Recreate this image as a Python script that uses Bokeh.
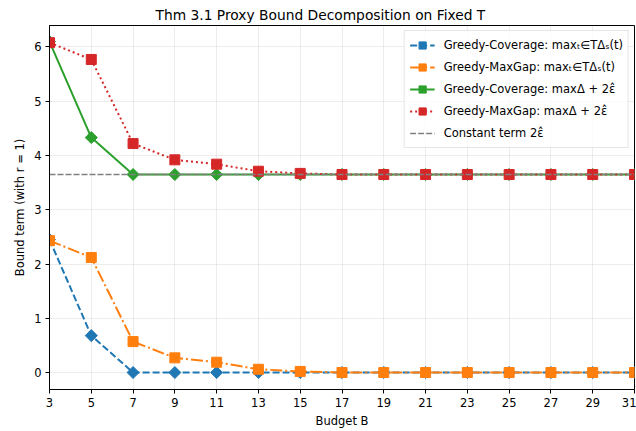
import math
from bokeh.plotting import figure
from bokeh.models import Range1d, FixedTicker, Legend, LegendItem
from bokeh.embed import file_html
from bokeh.resources import INLINE

budgets = [3, 5, 7, 9, 11, 13, 15, 17, 19, 21, 23, 25, 27, 29, 31]
cov_max_delta = [2.45, 0.68, 0, 0, 0, 0, 0, 0, 0, 0, 0, 0, 0, 0, 0]
gap_max_delta = [2.43, 2.12, 0.57, 0.27, 0.19, 0.06, 0.02, 0, 0, 0, 0, 0, 0, 0, 0]
const_term = 3.65
cov_bound = [6.10, 4.33, 3.65, 3.65, 3.65, 3.65, 3.65, 3.65, 3.65, 3.65, 3.65, 3.65, 3.65, 3.65, 3.65]
gap_bound = [6.08, 5.77, 4.22, 3.92, 3.84, 3.71, 3.67, 3.65, 3.65, 3.65, 3.65, 3.65, 3.65, 3.65, 3.65]
y_ticks = [0, 1, 2, 3, 4, 5, 6]

labels = [
    "Greedy-Coverage: maxₜ∈TΔₛ(t)",
    "Greedy-MaxGap: maxₜ∈TΔₛ(t)",
    "Greedy-Coverage: maxΔ + 2ε̂",
    "Greedy-MaxGap: maxΔ + 2ε̂",
    "Constant term 2ε̂",
]

FONT = "DejaVu Sans"

p = figure(
    width=636, height=431,
    frame_width=585, frame_height=364,
    output_backend="svg", toolbar_location=None,
    x_range=Range1d(3, 31), y_range=Range1d(-0.313, 6.396),
    min_border_left=49, min_border_right=2, min_border_top=25, min_border_bottom=41,
    title="Thm 3.1 Proxy Bound Decomposition on Fixed T",
)
p.title.align = "left"
p.title.offset = 106
p.title.text_font = FONT
p.title.text_font_size = "13.8px"
p.title.text_font_style = "normal"
p.title.text_color = "black"
p.title.standoff = 6

p.outline_line_color = "black"
p.outline_line_width = 1
p.background_fill_color = "white"
p.border_fill_color = "white"

p.xaxis.ticker = FixedTicker(ticks=budgets)
p.yaxis.ticker = FixedTicker(ticks=y_ticks)
p.xaxis.axis_label = "Budget B"
p.yaxis.axis_label = "Bound term (with r = 1)"
for ax in (p.xaxis, p.yaxis):
    ax.axis_label_text_font = FONT
    ax.axis_label_text_font_size = "11.5px"
    ax.axis_label_text_font_style = "normal"
    ax.axis_label_text_color = "black"
    ax.axis_label_standoff = 4
    ax.major_label_text_font = FONT
    ax.major_label_text_font_size = "11.5px"
    ax.major_label_text_color = "black"
    ax.major_label_standoff = 4
    ax.major_tick_in = 0
    ax.major_tick_out = 4
    ax.minor_tick_in = 0
    ax.minor_tick_out = 0
    ax.axis_line_color = "black"
    ax.major_tick_line_color = "black"

p.grid.grid_line_color = "#b0b0b0"
p.grid.grid_line_alpha = 0.3
p.grid.grid_line_width = 0.8

blue, orange, green, red, gray = "#1f77b4", "#ff7f0e", "#2ca02c", "#d62728", "#808080"

l1 = p.line(budgets, cov_max_delta, line_color=blue, line_width=2, line_dash="7 3")
s1 = p.scatter(budgets, cov_max_delta, marker="square", angle=math.pi / 4, size=8.5,
               fill_color=blue, line_color=blue)
l2 = p.line(budgets, gap_max_delta, line_color=orange, line_width=2, line_dash="12 3 2 3")
s2 = p.scatter(budgets, gap_max_delta, marker="square", size=10,
               fill_color=orange, line_color=orange)
l3 = p.line(budgets, cov_bound, line_color=green, line_width=2)
s3 = p.scatter(budgets, cov_bound, marker="square", angle=math.pi / 4, size=8.5,
               fill_color=green, line_color=green)
l4 = p.line(budgets, gap_bound, line_color=red, line_width=2, line_dash="2 3")
s4 = p.scatter(budgets, gap_bound, marker="square", size=10,
               fill_color=red, line_color=red)
l5 = p.line(budgets, [const_term] * len(budgets), line_color=gray, line_width=1.5,
            line_dash="6 2")

legend = Legend(
    items=[
        LegendItem(label=labels[0], renderers=[l1, s1]),
        LegendItem(label=labels[1], renderers=[l2, s2]),
        LegendItem(label=labels[2], renderers=[l3, s3]),
        LegendItem(label=labels[3], renderers=[l4, s4]),
        LegendItem(label=labels[4], renderers=[l5]),
    ],
    location="top_right",
)
legend.margin = 5
legend.padding = 5
legend.spacing = 4
legend.glyph_width = 25
legend.glyph_height = 18
legend.label_height = 18
legend.label_standoff = 9
legend.label_text_font = FONT
legend.label_text_font_size = "11.5px"
legend.label_text_color = "black"
legend.border_line_color = "#cccccc"
legend.border_line_width = 1
legend.background_fill_alpha = 0.8
p.add_layout(legend)

open("out.html", "w").write(file_html(p, INLINE))
